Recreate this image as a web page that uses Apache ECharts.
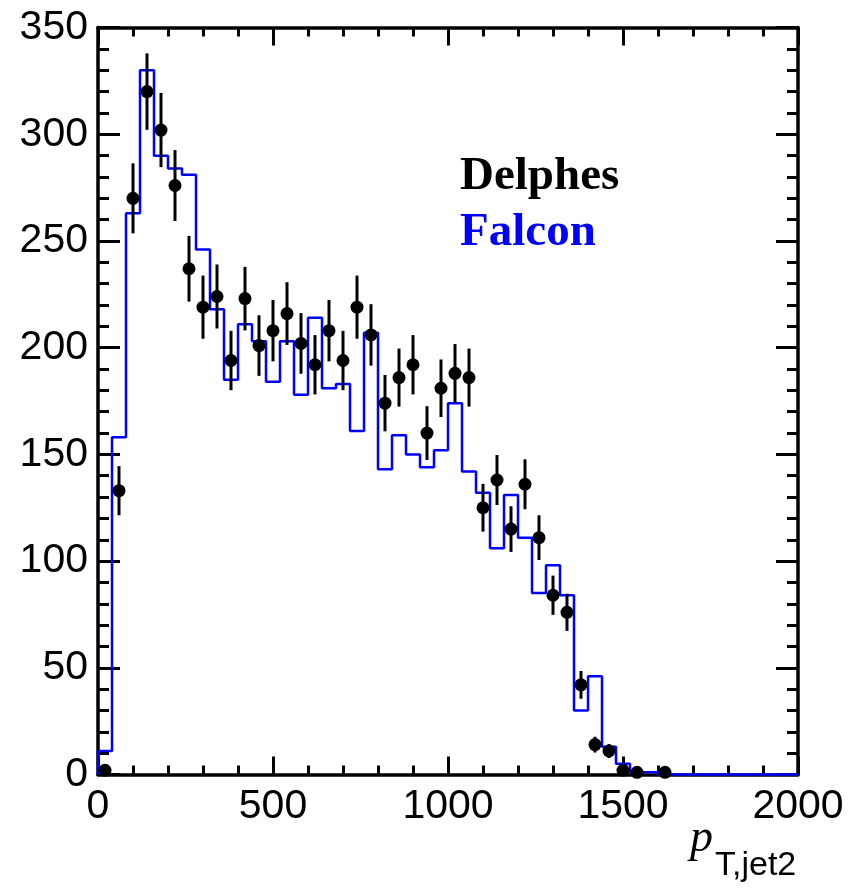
<!DOCTYPE html>
<html>
<head>
<meta charset="utf-8">
<script src="https://cdn.jsdelivr.net/npm/echarts@6/dist/echarts.min.js"></script>
<style>
  html, body { margin: 0; padding: 0; background: #fff; }
  #chart { width: 848px; height: 890px; }
</style>
</head>
<body>
<div id="chart"></div>
<script>
// histogram binning: 50 bins of 40 GeV from 0 to 2000
const xMin = 0;
const binWidth = 40;
const xTicks = [0, 500, 1000, 1500, 2000];
const yTicks = [0, 50, 100, 150, 200, 250, 300, 350];

// Delphes (black points) and their error bars
const delphes = [2, 133, 270, 320, 302, 276, 237, 219, 224, 194,
  223, 201, 208, 216, 202, 192, 208, 194, 219, 206,
  174, 186, 192, 160, 181, 188, 186, 125, 138, 115,
  136, 111, 84, 76, 42, 14, 11, 2, 1, 0,
  1, 0, 0, 0, 0, 0, 0, 0, 0, 0];
const delphesErr = [1.4, 11.5, 16.4, 17.9, 17.4, 16.6, 15.4, 14.8, 15.0, 13.9,
  14.9, 14.2, 14.4, 14.7, 14.2, 13.9, 14.4, 13.9, 14.8, 14.4,
  13.2, 13.6, 13.9, 12.6, 13.5, 13.7, 13.6, 11.2, 11.7, 10.7,
  11.7, 10.5, 9.2, 8.7, 6.5, 3.7, 3.3, 1.4, 1.0, 0,
  1.0, 0, 0, 0, 0, 0, 0, 0, 0, 0];

// Falcon (blue step histogram)
const falcon = [11, 158, 263, 330, 290, 284, 281, 246, 218, 185,
  211, 203, 184, 203, 178, 214, 181, 183, 161, 207,
  143, 159, 150, 144, 152, 174, 142, 132, 106, 131,
  111, 85, 98, 84, 30, 46, 13, 5, 1, 1,
  0, 0, 0, 0, 0, 0, 0, 0, 0, 0];

// build step points at bin edges
let stepData = [[xMin, 0]];
falcon.forEach((v, i) => {
  stepData.push([xMin + i * binWidth, v]);
});
stepData.push([xMin + falcon.length * binWidth, falcon[falcon.length - 1]]);

// points only for non-empty bins
let pointData = [];
let errData = [];
delphes.forEach((v, i) => {
  if (v > 0) {
    let xc = xMin + (i + 0.5) * binWidth;
    pointData.push([xc, v]);
    errData.push([xc, v - delphesErr[i], v + delphesErr[i]]);
  }
});

let myChart = echarts.init(document.getElementById("chart"));

const labelFont = {
  color: "#000",
  fontSize: 41,
  fontFamily: "Liberation Sans",
};
const frameLine = { lineStyle: { color: "#000", width: 3.5 } };
const tickStyle = { color: "#000", width: 3 };

function xAxisCfg(pos, showLabel) {
  return {
    type: "value",
    position: pos,
    min: 0,
    max: 2000,
    interval: 500,
    axisLine: { show: true, onZero: false, ...frameLine },
    axisTick: { show: true, inside: true, length: 18, lineStyle: tickStyle },
    minorTick: { show: true, splitNumber: 5, length: 9, lineStyle: tickStyle },
    splitLine: { show: false },
    axisLabel: {
      show: showLabel,
      margin: 12,
      ...labelFont,
      formatter: (v) => (xTicks.indexOf(v) >= 0 ? String(v) : ""),
    },
  };
}
function yAxisCfg(pos, showLabel) {
  return {
    type: "value",
    position: pos,
    min: 0,
    max: 350,
    interval: 50,
    axisLine: { show: true, onZero: false, ...frameLine },
    axisTick: { show: true, inside: true, length: 22, lineStyle: tickStyle },
    minorTick: { show: true, splitNumber: 5, length: 11, lineStyle: tickStyle },
    splitLine: { show: false },
    axisLabel: {
      show: showLabel,
      margin: 10,
      ...labelFont,
      formatter: (v) => (yTicks.indexOf(v) >= 0 ? String(v) : ""),
    },
  };
}

myChart.setOption({
  backgroundColor: "#fff",
  animation: false,
  grid: { left: 98, right: 50, top: 27.6, bottom: 115.5 },
  xAxis: [xAxisCfg("bottom", true), xAxisCfg("top", false)],
  yAxis: [yAxisCfg("left", true), yAxisCfg("right", false)],
  graphic: [
    {
      type: "text", left: 460, top: 153, z: 10,
      style: { text: "Delphes", fill: "#000", font: "bold 47px 'Liberation Serif'" },
    },
    {
      type: "text", left: 460, top: 209, z: 10,
      style: { text: "Falcon", fill: "#0000ff", font: "bold 47px 'Liberation Serif'" },
    },
    {
      type: "text", left: 690, top: 816, z: 10,
      style: { text: "p", fill: "#000", font: "italic 46px 'Liberation Serif'" },
    },
    {
      type: "text", left: 715, top: 849, z: 10,
      style: { text: "T,jet2", fill: "#000", font: "34px 'Liberation Sans'" },
    },
  ],
  series: [
    {
      name: "Falcon",
      type: "line",
      step: "end",
      data: stepData,
      symbol: "none",
      clip: false,
      z: 3,
      lineStyle: { color: "#0000ff", width: 2.5 },
    },
    {
      name: "DelphesErr",
      type: "custom",
      data: errData,
      z: 4,
      renderItem: function (params, api) {
        let lo = api.coord([api.value(0), api.value(1)]);
        let hi = api.coord([api.value(0), api.value(2)]);
        return {
          type: "line",
          shape: { x1: lo[0], y1: lo[1], x2: hi[0], y2: hi[1] },
          style: { stroke: "#000", lineWidth: 3 },
        };
      },
    },
    {
      name: "Delphes",
      type: "scatter",
      data: pointData,
      symbol: "circle",
      symbolSize: 13,
      z: 5,
      itemStyle: { color: "#000", opacity: 1 },
    },
  ],
});
</script>
</body>
</html>
